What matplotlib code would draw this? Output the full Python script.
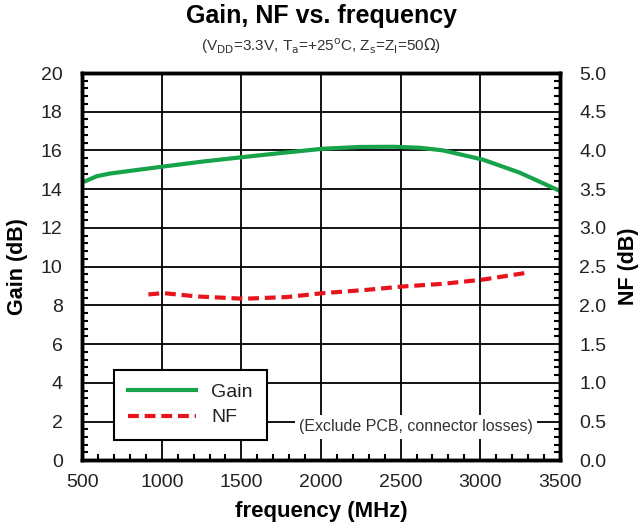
import numpy as np
import matplotlib.pyplot as plt
from matplotlib.ticker import MultipleLocator

plt.rcParams['font.family'] = ['Liberation Sans', 'DejaVu Sans']

# gain curve (MHz, dB)
freq_gain = [500, 519, 592, 676, 843, 1010, 1261, 1513, 1764, 2015, 2245, 2454,
             2621, 2768, 3019, 3249, 3500]
gain = [14.36, 14.41, 14.67, 14.81, 14.99, 15.17, 15.43, 15.66, 15.88, 16.09,
        16.18, 16.19, 16.14, 16.0, 15.52, 14.85, 13.91]

# noise figure (MHz, dB)
freq_nf = [916, 1010, 1220, 1513, 1785, 2015, 2287, 2517, 2768, 3019, 3312]
nf = [2.141, 2.158, 2.115, 2.085, 2.107, 2.158, 2.20, 2.244, 2.278, 2.333, 2.427]

fig = plt.figure(figsize=(6.42, 5.29), dpi=100)
ax = fig.add_axes([0.128, 0.130, 0.744, 0.732])
ax2 = ax.twinx()

ax.set_xlim(500, 3500)
ax.set_ylim(0, 20)
ax2.set_ylim(0, 5)

ax.xaxis.set_major_locator(MultipleLocator(500))
ax.xaxis.set_minor_locator(MultipleLocator(100))
ax.yaxis.set_major_locator(MultipleLocator(2))
ax.yaxis.set_minor_locator(MultipleLocator(0.4))
ax2.yaxis.set_major_locator(MultipleLocator(0.5))
ax2.yaxis.set_minor_locator(MultipleLocator(0.1))
ax2.yaxis.set_major_formatter(lambda v, p: f'{v:.1f}')

ax.grid(True, which='major', color='black', lw=1.3)
ax.set_axisbelow(True)
for a in (ax, ax2):
    for s in a.spines.values():
        s.set_linewidth(2.5)
    a.tick_params(which='both', direction='in', labelsize=14, color='black',
                  labelcolor='#222222')
    a.tick_params(which='major', length=0, pad=14)
    a.tick_params(which='minor', length=4, width=1.5)
ax.tick_params(axis='x', pad=10)

l1, = ax.plot(freq_gain, gain, color='#17a349', lw=3, label='Gain')
l2, = ax2.plot(freq_nf, nf, color='#e8141c', lw=3, ls=(0, (2.6, 1.4)), label='NF')

ax.set_xlabel('frequency (MHz)', fontsize=16, fontweight='bold', labelpad=7)
ax.set_ylabel('Gain (dB)', fontsize=15.5, fontweight='bold', labelpad=9)
ax2.set_ylabel('NF (dB)', fontsize=15.5, fontweight='bold', labelpad=8)

fig.text(0.5, 0.969, 'Gain, NF vs. frequency', ha='center', va='center',
         fontsize=18, fontweight='bold')
fig.text(0.5, 0.913, r'(V$_{\rm DD}$=3.3V, T$_{\rm a}$=+25$^{\rm o}$C, Z$_{\rm s}$=Z$_{\rm l}$=50$\Omega$)',
         ha='center', va='center', fontsize=11, color='#333333')

leg = ax.legend(handles=[l1, l2], loc='lower left', bbox_to_anchor=(0.067, 0.052),
                borderaxespad=0, fontsize=14, frameon=True, fancybox=False,
                edgecolor='black', handlelength=3.5, borderpad=0.7,
                labelspacing=0.4, framealpha=1)
leg.get_frame().set_linewidth(1.5)
for t in leg.get_texts():
    t.set_color('#222222')

ax2.text(2597, 0.43, '(Exclude PCB, connector losses)', ha='center', va='center',
         fontsize=11.5, color='#333333',
         bbox=dict(facecolor='white', edgecolor='none', pad=3))

fig.savefig('out.png', dpi=100)
